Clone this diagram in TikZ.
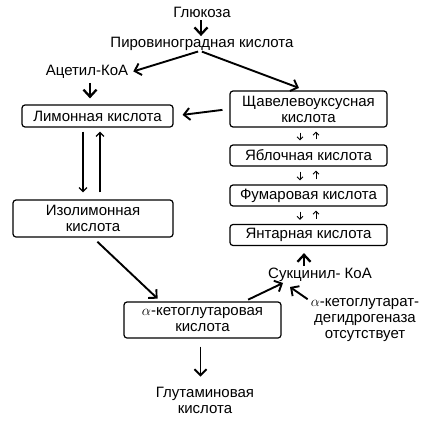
\documentclass[tikz,border=0pt]{standalone}
\usepackage{fontspec}
\setmainfont{Liberation Sans}
\usetikzlibrary{arrows.meta}
\begin{document}
\begin{tikzpicture}[x=1pt,y=-1pt,
  every node/.style={font=\fontsize{15}{16}\selectfont, inner sep=0pt, align=center},
  box/.style={draw, line width=1.2pt, rounded corners=3pt, minimum width=157pt},
  thick arr/.style={line width=2.3pt, -{Straight Barb[length=7pt,width=13pt,line width=2.3pt]}},
  mid arr/.style={line width=1.9pt, -{Straight Barb[length=6pt,width=12pt,line width=1.9pt]}},
  thin arr/.style={line width=1.2pt, -{Straight Barb[length=4pt,width=8pt,line width=1.2pt]}},
  small arr/.style={line width=0.9pt, -{Straight Barb[length=3pt,width=6pt,line width=0.9pt]}}]
\useasboundingbox (0,0) rectangle (429,426);
\node (glu) at (202,12) {Глюкоза};
\node (pyr) at (202,44) {Пировиноградная кислота};
\node (acet) at (87,72) {Ацетил-КоА};
\node[box, minimum width=151pt, minimum height=22pt] (lim) at (97.5,116) {Лимонная кислота};
\node[box, minimum height=36pt] (oxa) at (308.5,109) {Щавелевоуксусная\\кислота};
\node[box, minimum width=160pt, minimum height=37pt] (iso) at (93,218.5) {Изолимонная\\кислота};
\node[box, minimum height=21pt] (yab) at (308.5,155.5) {Яблочная кислота};
\node[box, minimum height=21pt] (fum) at (308.5,195.5) {Фумаровая кислота};
\node[box, minimum height=21pt] (yant) at (308.5,235) {Янтарная кислота};
\node (suc) at (320,275) {Сукцинил- КоА};
\node[box, minimum height=36pt] (akg) at (202.5,320) {$\alpha$-кетоглутаровая\\кислота};
\node (akgdh) at (365,320) {$\alpha$-кетоглутарат-\\дегидрогеназа\\отсутствует};
\node (glut) at (205,400) {Глутаминовая\\кислота};

\draw[thick arr, shorten <=3pt, shorten >=1pt] ([xshift=-1pt]glu.south) -- ([xshift=-1pt]pyr.north);
\draw[mid arr, shorten <=2pt, shorten >=2pt] ([xshift=-2pt]pyr.south) -- ([xshift=3pt]acet.east);
\draw[mid arr, shorten <=2pt, shorten >=7pt] ([xshift=-2pt]pyr.south) -- ([xshift=-3pt]oxa.north);
\draw[thick arr, shorten <=4pt, shorten >=6pt] ([xshift=3pt]acet.south) -- ([xshift=3pt]acet.south |- lim.north);
\draw[mid arr, shorten <=7pt, shorten >=9pt] (oxa.west) -- (lim.east);
\draw[thin arr, shorten <=4pt, shorten >=7pt] ([xshift=-14.5pt]lim.south) -- ([xshift=-14.5pt]lim.south |- iso.north);
\draw[thin arr, shorten <=7pt, shorten >=4pt] ([xshift=2.5pt]lim.south |- iso.north) -- ([xshift=2.5pt]lim.south);
\foreach \a/\b in {oxa/yab, yab/fum, fum/yant}{
  \draw[small arr, shorten <=5pt, shorten >=4pt] ([xshift=-8.5pt]\a.south) -- ([xshift=-8.5pt]\b.north);
  \draw[small arr, shorten <=5pt, shorten >=4pt] ([xshift=7.5pt]\b.north) -- ([xshift=7.5pt]\a.south);
}
\draw[thick arr, shorten <=2pt, shorten >=7pt] ([xshift=-16pt]suc.north) -- ([xshift=-16pt]suc.north |- yant.south);
\draw[mid arr, shorten <=6pt, shorten >=4pt] (iso.south) -- ([xshift=-42pt]akg.north);
\draw[mid arr, shorten <=4pt, shorten >=0pt] ([xshift=42pt]akg.north) -- ([xshift=-37pt,yshift=-1pt]suc.south);
\draw[mid arr, shorten <=0pt, shorten >=0pt] ([xshift=-3pt,yshift=-1pt]akgdh.north west) -- ([xshift=-30pt,yshift=-5pt]suc.south);
\draw[mid arr, shorten <=8pt, shorten >=10pt] ([xshift=-2pt]akg.south) -- ([xshift=-2pt]akg.south |- glut.north);
\end{tikzpicture}
\end{document}
